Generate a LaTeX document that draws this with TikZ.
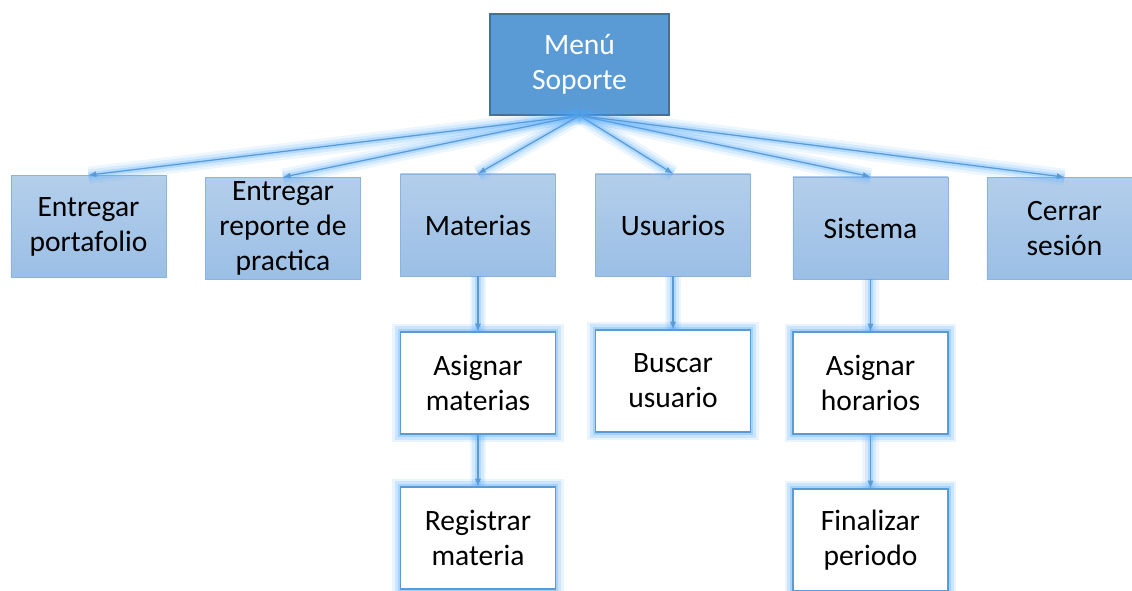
\documentclass[tikz,border=0pt]{standalone}
\usepackage{fontspec}
\setmainfont{Carlito}
\definecolor{menublue}{HTML}{5B9BD5}
\definecolor{menuedge}{HTML}{41719C}
\definecolor{lvltop}{HTML}{B3CEEB}
\definecolor{lvlbot}{HTML}{9BBFE5}
\definecolor{lvledge}{HTML}{8DB3DD}
\definecolor{glowblue}{HTML}{4FA8FF}
\definecolor{linkblue}{HTML}{5B9BD5}
\tikzset{
    box/.style={rectangle, minimum width=3.875cm, minimum height=2.55cm, align=center,
        font=\fontsize{21}{25}\selectfont, inner sep=2pt},
    menubox/.style={box, fill=menublue, draw=menuedge, line width=.8pt, text=white,
        minimum width=4.475cm, minimum height=2.525cm},
    mainbox/.style={box, top color=lvltop, bottom color=lvlbot, draw=lvledge, line width=.5pt},
    subbox/.style={box, fill=white, draw=linkblue, line width=.8pt,
        preaction={draw=glowblue, line width=12pt, opacity=.12},
        preaction={draw=glowblue, line width=8pt, opacity=.2},
        preaction={draw=glowblue, line width=4pt, opacity=.3}},
    link/.style={-latex, draw=linkblue, line width=.9pt,
        preaction={draw=glowblue, -, line width=12pt, opacity=.1},
        preaction={draw=glowblue, -, line width=8pt, opacity=.16},
        preaction={draw=glowblue, -, line width=4pt, opacity=.25}},
}
\begin{document}
\begin{tikzpicture}[x=0.025cm,y=-0.025cm]
    \useasboundingbox (0,0) rectangle (1132,591);
    % top
    \node[menubox] (menu) at (579.5,64.5) {Menú\\Soporte};
    % first level
    \node[mainbox] (port) at (88.5,226.5) {Entregar\\portafolio};
    \node[mainbox] (rep) at (283,228.5) {Entregar\\reporte de\\practica};
    \node[mainbox] (mat) at (478,225) {Materias};
    \node[mainbox] (usu) at (673,225) {Usuarios};
    \node[mainbox] (sis) at (870.5,228) {Sistema};
    \node[mainbox] (cer) at (1064.5,228.5) {Cerrar\\sesión};
    % second level
    \node[subbox] (asigmat) at (478,383) {Asignar\\materias};
    \node[subbox] (busc) at (673,381) {Buscar\\usuario};
    \node[subbox] (asighor) at (870.5,383) {Asignar\\horarios};
    % third level
    \node[subbox] (reg) at (478,538) {Registrar\\materia};
    \node[subbox] (fin) at (870.5,540) {Finalizar\\periodo};
    % connectors
    \foreach \n in {port,rep,mat,usu,sis,cer}
        \draw[link] (menu.south) -- (\n.north);
    \draw[link] (mat) -- (asigmat);
    \draw[link] (usu) -- (busc);
    \draw[link] (sis) -- (asighor);
    \draw[link] (asigmat) -- (reg);
    \draw[link] (asighor) -- (fin);
\end{tikzpicture}
\end{document}
